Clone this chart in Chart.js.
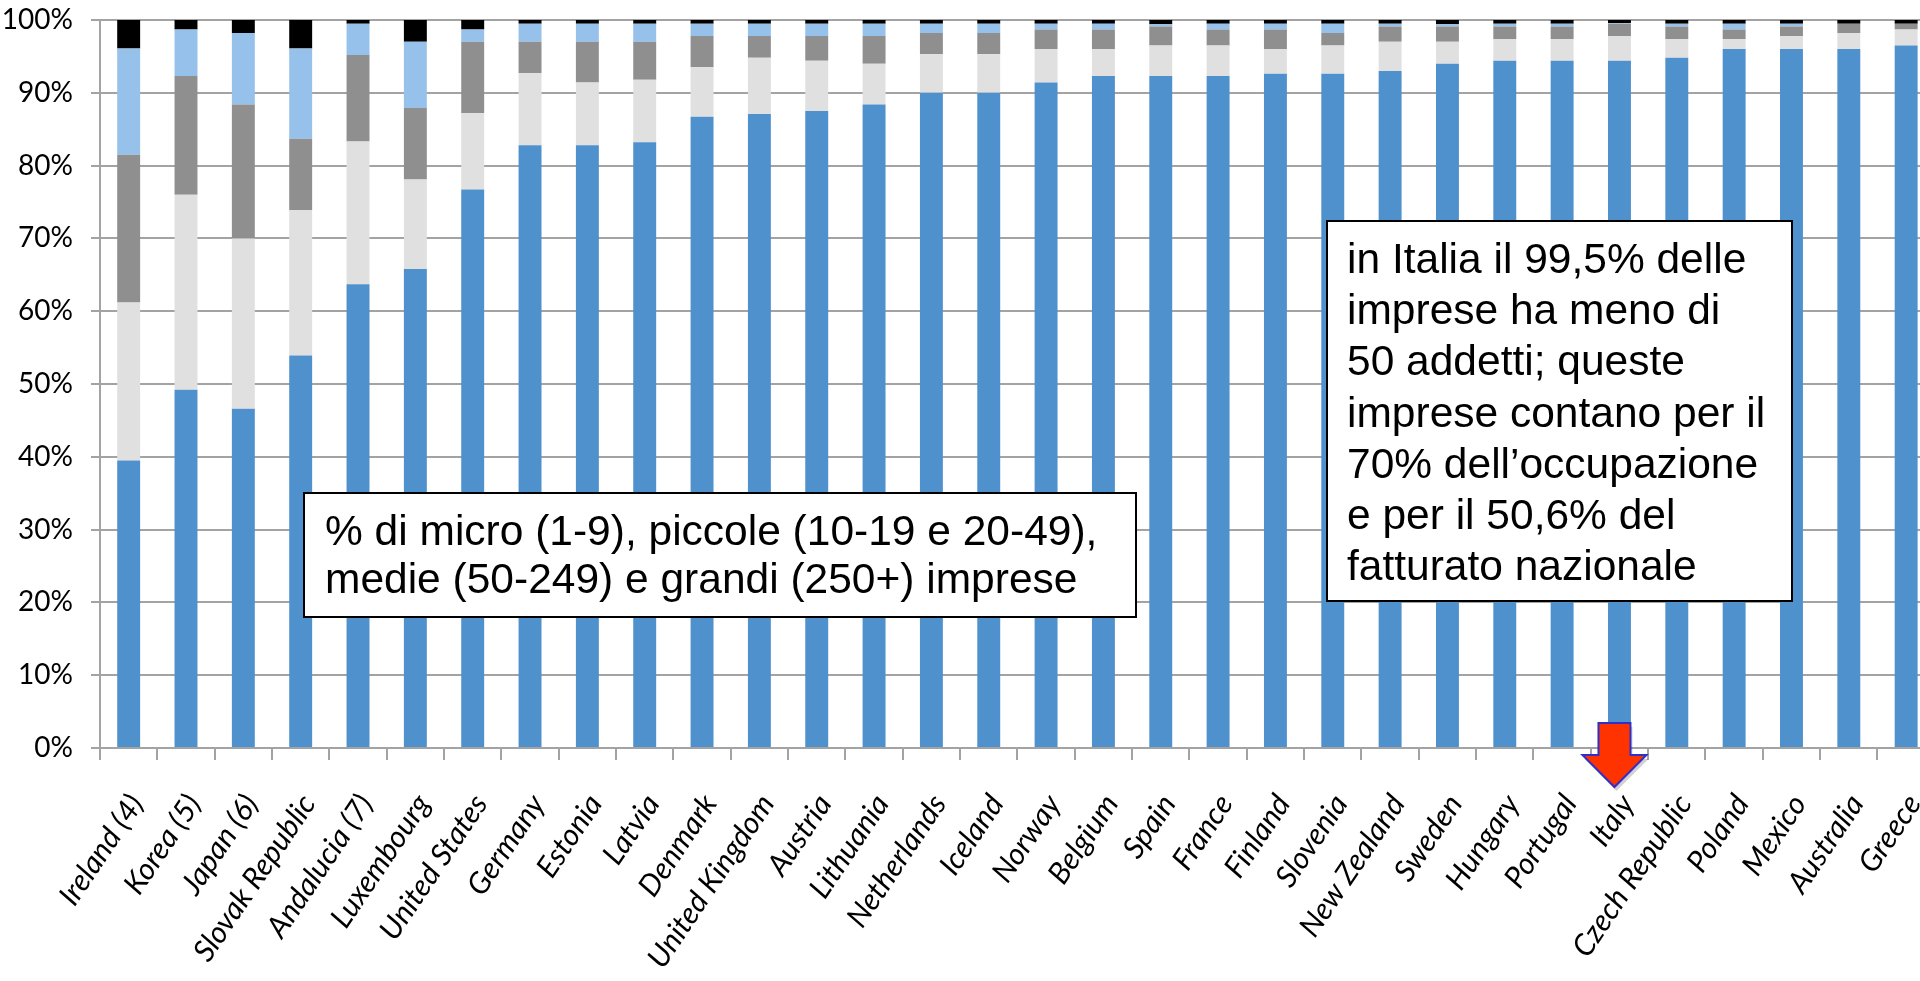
<!DOCTYPE html>
<html>
<head>
<meta charset="utf-8">
<script src="https://cdn.jsdelivr.net/npm/chart.js"></script>
<style>
  html, body { margin: 0; padding: 0; background: #fff; overflow: hidden; }
  #wrap { position: absolute; left: 0; top: 0; width: 1964px; height: 981px; }
</style>
</head>
<body>
<div id="wrap"><canvas id="chart"></canvas></div>
<script>
// ===== Data (% of firms by size class) =====
var countries = ['Ireland (4)', 'Korea (5)', 'Japan (6)', 'Slovak Republic', 'Andalucia (7)', 'Luxembourg',
  'United States', 'Germany', 'Estonia', 'Latvia', 'Denmark', 'United Kingdom', 'Austria', 'Lithuania',
  'Netherlands', 'Iceland', 'Norway', 'Belgium', 'Spain', 'France', 'Finland', 'Slovenia', 'New Zealand',
  'Sweden', 'Hungary', 'Portugal', 'Italy', 'Czech Republic', 'Poland', 'Mexico', 'Australia', 'Greece'];

var micro   = [39.5, 49.2, 46.6, 53.9, 63.7, 65.8, 76.7, 82.8, 82.8, 83.2, 86.7, 87.1, 87.5, 88.4, 90.0, 90.0,
               91.4, 92.3, 92.3, 92.3, 92.6, 92.6, 93.0, 94.0, 94.4, 94.4, 94.4, 94.8, 96.0, 96.0, 96.0, 96.5];
var small1  = [21.7, 26.8, 23.4, 20.0, 19.6, 12.3, 10.5, 9.9, 8.6, 8.6, 6.8, 7.7, 6.9, 5.6, 5.3, 5.3,
               4.6, 3.7, 4.2, 4.2, 3.4, 3.9, 4.0, 3.0, 3.0, 3.0, 3.4, 2.6, 1.4, 1.8, 2.2, 2.2];
var small2  = [20.3, 16.3, 18.4, 9.8, 11.9, 9.8, 9.8, 4.3, 5.6, 5.2, 4.3, 3.0, 3.4, 3.8, 2.9, 2.9,
               2.7, 2.7, 2.6, 2.2, 2.7, 1.7, 2.1, 2.1, 1.7, 1.7, 1.7, 1.7, 1.3, 1.3, 1.3, 0.8];
var medium  = [14.6, 6.4, 9.8, 12.4, 4.3, 9.1, 1.7, 2.5, 2.5, 2.5, 1.7, 1.7, 1.7, 1.7, 1.3, 1.3,
               0.8, 0.8, 0.3, 0.8, 0.8, 1.3, 0.4, 0.3, 0.4, 0.4, 0.1, 0.4, 0.8, 0.4, 0.0, 0.0];
var large   = [3.9, 1.3, 1.8, 3.9, 0.5, 3.0, 1.3, 0.5, 0.5, 0.5, 0.5, 0.5, 0.5, 0.5, 0.5, 0.5,
               0.5, 0.5, 0.6, 0.5, 0.5, 0.5, 0.5, 0.6, 0.5, 0.5, 0.4, 0.5, 0.5, 0.5, 0.5, 0.5];

var yTicks = [0, 10, 20, 30, 40, 50, 60, 70, 80, 90, 100];

var noteLeft  = ['% di micro (1-9), piccole (10-19 e 20-49),', 'medie (50-249) e grandi (250+) imprese'];
var noteRight = ['in Italia il 99,5% delle', 'imprese ha meno di', '50 addetti; queste',
  'imprese contano per il', '70% dell\u2019occupazione', 'e per il 50,6% del', 'fatturato nazionale'];

var GRID = '#a3a3a3';

// text boxes + arrow pointing at Italy
var overlay = {
  id: 'overlay',
  afterDraw: function(chart) {
    var ctx = chart.ctx;
    var xs = chart.scales.x, ys = chart.scales.y;

    function box(x, y, w, h, lines, tx, ty, step) {
      ctx.save();
      ctx.fillStyle = '#fff';
      ctx.fillRect(x, y, w, h);
      ctx.strokeStyle = '#000';
      ctx.lineWidth = 2;
      ctx.strokeRect(x, y, w, h);
      ctx.fillStyle = '#000';
      ctx.font = '42.5px "Liberation Sans", Arial, sans-serif';
      ctx.textBaseline = 'alphabetic';
      ctx.textAlign = 'left';
      lines.forEach(function(l, i) { ctx.fillText(l, tx, ty + i * step); });
      ctx.restore();
    }
    box(304, 493, 832, 124, noteLeft, 325, 545, 48);
    box(1327, 221, 465, 380, noteRight, 1347, 273, 51.2);

    // arrow
    var cx = xs.getPixelForValue(countries.indexOf('Italy')) - 5;
    var y0 = ys.getPixelForValue(0);
    function arrowPath(dx, dy) {
      ctx.beginPath();
      ctx.moveTo(cx - 16 + dx, y0 - 25 + dy);
      ctx.lineTo(cx + 16 + dx, y0 - 25 + dy);
      ctx.lineTo(cx + 16 + dx, y0 + 7 + dy);
      ctx.lineTo(cx + 32 + dx, y0 + 7 + dy);
      ctx.lineTo(cx + dx, y0 + 39 + dy);
      ctx.lineTo(cx - 32 + dx, y0 + 7 + dy);
      ctx.lineTo(cx - 16 + dx, y0 + 7 + dy);
      ctx.closePath();
    }
    ctx.save();
    arrowPath(2, 4);
    ctx.fillStyle = 'rgba(0,0,0,0.18)';
    ctx.fill();
    arrowPath(0, 0);
    ctx.fillStyle = '#ff3300';
    ctx.fill();
    ctx.strokeStyle = '#3030c8';
    ctx.lineWidth = 2;
    ctx.stroke();
    ctx.restore();
  }
};

function ds(data, color) {
  return { data: data, backgroundColor: color, borderWidth: 0, barPercentage: 0.4, categoryPercentage: 1.0 };
}

new Chart(document.getElementById('chart'), {
  type: 'bar',
  data: {
    labels: countries,
    datasets: [
      ds(micro, '#4f91cd'),
      ds(small1, '#e0e0e0'),
      ds(small2, '#8f8f8f'),
      ds(medium, '#95c1eb'),
      ds(large, '#000000'),
    ],
  },
  options: {
    responsive: true,
    maintainAspectRatio: false,
    animation: false,
    layout: { padding: { top: 20, right: 0, left: 0, bottom: 0 } },
    plugins: { legend: { display: false }, tooltip: { enabled: false } },
    scales: {
      x: {
        stacked: true,
        grid: { offset: true, drawOnChartArea: false, color: GRID, lineWidth: 2, tickLength: 12 },
        border: { color: GRID, width: 2 },
        ticks: {
          autoSkip: false, minRotation: 56, maxRotation: 56, padding: 28, labelOffset: 8, color: '#000',
          font: { family: 'Lato', style: 'italic', size: 30 },
        },
        afterFit: function(s) { s.height = 233; },
      },
      y: {
        stacked: true,
        min: 0,
        max: 100,
        afterBuildTicks: function(s) { s.ticks = yTicks.map(function(v) { return { value: v }; }); },
        grid: { color: GRID, lineWidth: 2, tickLength: 9 },
        border: { color: GRID, width: 2 },
        ticks: {
          padding: 18, color: '#000',
          font: { family: 'Lato', size: 28 },
          callback: function(v) { return v + '%'; },
        },
        afterFit: function(s) { s.width = 100; s.paddingTop = 0; s.paddingBottom = 0; },
      },
    },
  },
  plugins: [overlay],
});
</script>
</body>
</html>
